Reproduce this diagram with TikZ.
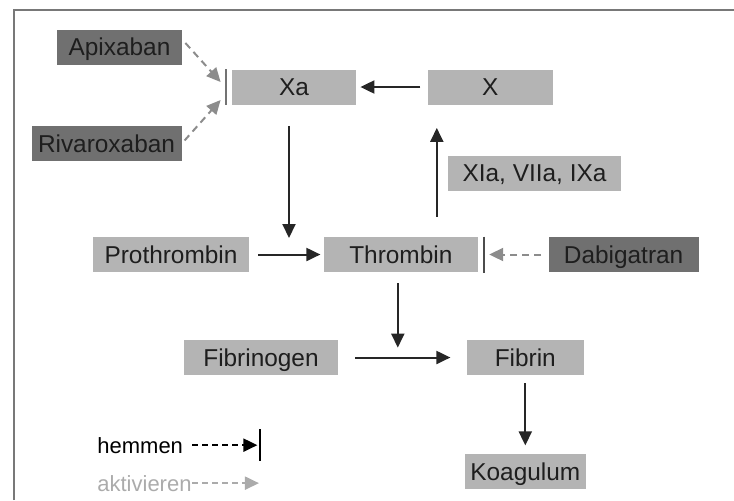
\documentclass[tikz,border=0pt]{standalone}
\usepackage{fontspec}
\setmainfont{Liberation Sans}
\usetikzlibrary{arrows.meta, positioning}
\definecolor{boxlight}{RGB}{180,180,180}
\definecolor{boxdark}{RGB}{112,112,112}
\definecolor{dashgray}{RGB}{140,140,140}
\definecolor{framegray}{RGB}{120,120,120}
\definecolor{textdark}{RGB}{30,30,30}

\begin{document}
\begin{tikzpicture}[
    x=0.5pt, y=-0.5pt,
    factor/.style={fill=boxlight, text=textdark, minimum height=17.5pt, inner sep=0pt, text height=8.7pt, text depth=0pt, font=\fontsize{12.2}{14}\selectfont},
    drug/.style={factor, fill=boxdark},
    arrow/.style={-{Triangle[length=7pt, width=6.5pt]}, line width=1pt, draw=black!85},
    inhib/.style={arrow, draw=dashgray, dash pattern=on 3.5pt off 2.5pt},
    bar/.style={line width=0.9pt},
    legend/.style={inner sep=0pt, anchor=base west, font=\fontsize{11}{13}\selectfont},
    node distance=35pt
]
    \useasboundingbox (0,0) rectangle (734,500);
    \draw[framegray, line width=1pt] (14,500) -- (14,10) -- (734,10);

    % Factors
    \node[drug, minimum width=62.5pt] (apixaban) 		at (119.5,47) 	{Apixaban};
    \node[drug, minimum width=75pt] (rivaroxaban) 		at (106.5,143.5) {Rivaroxaban};
    \node[factor, minimum width=62pt] (xa) 			at (294,87) 	{Xa};
    \node[factor, minimum width=62.5pt, right=35.5pt of xa] (x) 		{X};
    \node[factor, minimum width=86.5pt] (xia) 		at (534.5,173) 	{XIa, VIIa, IXa};
    \node[factor, minimum width=78pt] (prothrombin) 	at (171,254.5) 	{Prothrombin};
    \node[factor, minimum width=77pt, right=37pt of prothrombin] (thrombin) 	{Thrombin};
    \node[drug, minimum width=75pt, right=of thrombin] (dabigatran) 		{Dabigatran};
    \node[factor, minimum width=77pt] (fibrinogen) 	at (261,357.5) 	{Fibrinogen};
    \node[factor, minimum width=58.5pt, right=64pt of fibrinogen] (fibrin) 	{Fibrin};
    \node[factor, minimum width=60.5pt, below=39pt of fibrin] (koagulum) 	{Koagulum};

    % Helper points
    \coordinate (xaapi) 	at ([xshift=-5.5pt, yshift=2.5pt]xa.west);
    \coordinate (xariva) 	at ([xshift=-5.5pt, yshift=-6.5pt]xa.west);
    \coordinate (xajoin) 	at (289,253);
    \coordinate (upfoot) 	at ([xshift=18pt, yshift=10pt]thrombin.north);

    % Transitions
    \draw[arrow, shorten <=3.5pt, shorten >=2pt] (x) -- (xa);
    \draw[arrow] ([yshift=-10.5pt]xa.south -| xajoin) -- ([yshift=7.5pt]xajoin);
    \draw[arrow, shorten <=4.5pt, shorten >=1.5pt] (prothrombin) -- (thrombin);
    \draw[arrow, shorten >=11.5pt] (upfoot) -- (upfoot |- x.south);
    \draw[arrow, shorten <=8.5pt, shorten >=8pt] (fibrinogen) -- (fibrin);
    \draw[arrow, shorten <=5.5pt] ([xshift=-1.5pt]thrombin.south) -- ([xshift=-1.5pt, yshift=-4pt]thrombin.south |- fibrinogen.north);
    \draw[arrow, shorten <=4pt, shorten >=4pt] (fibrin) -- (koagulum);

    % Inhibitors
    \draw[bar, black!55] ([xshift=-3pt]xa.north west) -- ([xshift=-3pt]xa.south west);
    \draw[bar, black!70] ([xshift=3pt]thrombin.north east) -- ([xshift=3pt, yshift=-0.5pt]thrombin.south east);
    \draw[inhib] ([xshift=1.5pt, yshift=2pt]apixaban.east) -- (xaapi);
    \draw[inhib, shorten <=2pt] (rivaroxaban.east) -- (xariva);
    \draw[inhib, shorten <=3.5pt, shorten >=5.5pt] (dabigatran) -- (thrombin);

    % Legend
    \node[legend, text=black] (hemmen) 			at (97,453) 	{hemmen};
    \node[legend, text=black!33] (aktivieren) 	at (97,491) 	{aktivieren};
    \coordinate (hemmenbar) 	at ([xshift=38.5pt]hemmen.east);
    \coordinate (aktivend) 		at ([xshift=33.5pt]aktivieren.east);
    \draw[arrow, draw=black, dash pattern=on 3pt off 2pt, shorten <=4.5pt, shorten >=1.5pt] (hemmen.east) -- (hemmenbar);
    \draw[bar, black] ([yshift=8pt]hemmenbar) -- ([yshift=-8pt]hemmenbar);
    \draw[arrow, draw=black!33, dash pattern=on 3pt off 2pt] (aktivieren.east) -- (aktivend);
\end{tikzpicture}
\end{document}
